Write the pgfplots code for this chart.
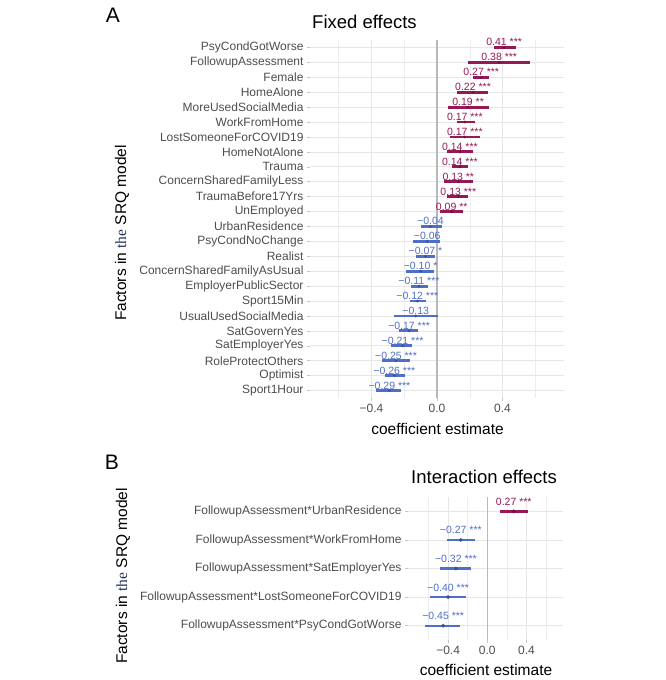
\documentclass[border=0pt]{standalone}
\usepackage{pgfplots}
\pgfplotsset{compat=1.18}
\usepackage{pgfplotstable}
\usepackage{fontspec}
\setmainfont{Liberation Sans}
\newfontfamily\serifthe{Liberation Serif}
\definecolor{posc}{HTML}{961955}
\definecolor{negc}{HTML}{4F6EC8}
\definecolor{tickgray}{HTML}{4D4D4D}
\definecolor{gridgray}{HTML}{E6E6E6}
\definecolor{zerogray}{HTML}{B8B8B8}
\definecolor{thec}{HTML}{22335E}

\pgfplotstableread[col sep=comma]{
row,est,lo,hi,label
1,0.41,0.345,0.48,0.41 ***
2,0.38,0.19,0.57,0.38 ***
3,0.27,0.22,0.32,0.27 ***
4,0.22,0.12,0.31,0.22 ***
5,0.19,0.07,0.32,0.19 **
6,0.17,0.12,0.23,0.17 ***
7,0.17,0.08,0.26,0.17 ***
8,0.14,0.06,0.22,0.14 ***
9,0.14,0.09,0.19,0.14 ***
10,0.13,0.04,0.22,0.13 **
11,0.13,0.06,0.19,0.13 ***
12,0.09,0.02,0.16,0.09 **
}\posA

\pgfplotstableread[col sep=comma]{
row,est,lo,hi,label
13,-0.04,-0.10,0.03,−0.04
14,-0.06,-0.145,0.02,−0.06
15,-0.07,-0.13,-0.01,−0.07 *
16,-0.10,-0.19,-0.02,−0.10 *
17,-0.11,-0.16,-0.055,−0.11 ***
18,-0.12,-0.165,-0.07,−0.12 ***
19,-0.13,-0.26,0.005,−0.13
20,-0.17,-0.23,-0.115,−0.17 ***
21,-0.21,-0.28,-0.15,−0.21 ***
22,-0.25,-0.335,-0.165,−0.25 ***
23,-0.26,-0.32,-0.195,−0.26 ***
24,-0.29,-0.37,-0.22,−0.29 ***
}\negA

\pgfplotstableread[col sep=comma]{
row,est,lo,hi,label
1,0.27,0.13,0.41,0.27 ***
}\posB

\pgfplotstableread[col sep=comma]{
row,est,lo,hi,label
2,-0.27,-0.41,-0.125,−0.27 ***
3,-0.32,-0.48,-0.165,−0.32 ***
4,-0.40,-0.585,-0.22,−0.40 ***
5,-0.45,-0.635,-0.28,−0.45 ***
}\negB

\pgfplotsset{
  coefaxis/.style={
    scale only axis,
    y dir=reverse,
    xtick={-0.4,0,0.4}, xticklabels={−0.4,0.0,0.4},
    minor xtick={-0.6,-0.2,0.2,0.6},
    grid=both,
    major grid style={gridgray, line width=0.7pt},
    minor grid style={gridgray!70, line width=0.45pt},
    axis line style={draw=none},
    tick align=outside, major tick length=3pt, minor tick length=0pt,
    tick pos=left, tick style={color=gray!45, line width=0.6pt},
    ticklabel style={font=\fontsize{12}{14}\selectfont, text=tickgray},
    clip=false,
  },
  coefplot/.style n args={4}{
    only marks, mark=*, color=#1, mark size=#2,
    mark options={draw=#1!75!black, fill=#1!75!black},
    point meta=explicit symbolic,
    nodes near coords,
    every node near coord/.append style={font=\fontsize{10.5}{12}\selectfont, text=#1, anchor=base, yshift=#3},
    error bars/x dir=both, error bars/x explicit, error bars/error mark=none,
    error bars/error bar style={line width=#4, color=#1},
  },
}

\begin{document}
\begin{tikzpicture}[x=1pt,y=1pt]
\useasboundingbox (0,0) rectangle (666,-680);

% ---------------- Panel A ----------------
\begin{axis}[coefaxis,
  at={(310pt,-398pt)}, anchor=south west,
  width=254pt, height=358pt,
  xmin=-0.775, xmax=0.775, ymin=0.5, ymax=24.5,
  ytick={1,...,24},
  yticklabels={PsyCondGotWorse,FollowupAssessment,Female,HomeAlone,MoreUsedSocialMedia,WorkFromHome,LostSomeoneForCOVID19,HomeNotAlone,Trauma,ConcernSharedFamilyLess,TraumaBefore17Yrs,UnEmployed,UrbanResidence,PsyCondNoChange,Realist,ConcernSharedFamilyAsUsual,EmployerPublicSector,Sport15Min,UsualUsedSocialMedia,SatGovernYes,SatEmployerYes,RoleProtectOthers,Optimist,Sport1Hour},
]
\addplot[zerogray, line width=1.6pt, forget plot] coordinates {(0,0.5) (0,24.5)};
\addplot[coefplot={posc}{1.2pt}{1.5pt}{2.8pt}]
  table[x=est, y=row, x error plus expr=\thisrow{hi}-\thisrow{est}, x error minus expr=\thisrow{est}-\thisrow{lo}, meta=label] {\posA};
\addplot[coefplot={negc}{1.2pt}{1.5pt}{2.8pt}]
  table[x=est, y=row, x error plus expr=\thisrow{hi}-\thisrow{est}, x error minus expr=\thisrow{est}-\thisrow{lo}, meta=label] {\negA};
\end{axis}

% ---------------- Panel B ----------------
\begin{axis}[coefaxis,
  at={(408pt,-640pt)}, anchor=south west,
  width=155pt, height=143pt,
  xmin=-0.809, xmax=0.772, ymin=0.5, ymax=5.5,
  ytick={1,...,5},
  yticklabels={FollowupAssessment*UrbanResidence,FollowupAssessment*WorkFromHome,FollowupAssessment*SatEmployerYes,FollowupAssessment*LostSomeoneForCOVID19,FollowupAssessment*PsyCondGotWorse},
]
\addplot[zerogray, line width=1.6pt, forget plot] coordinates {(0,0.5) (0,5.5)};
\addplot[coefplot={posc}{1.7pt}{6pt}{2.4pt}]
  table[x=est, y=row, x error plus expr=\thisrow{hi}-\thisrow{est}, x error minus expr=\thisrow{est}-\thisrow{lo}, meta=label] {\posB};
\addplot[coefplot={negc}{1.7pt}{6pt}{2.4pt}]
  table[x=est, y=row, x error plus expr=\thisrow{hi}-\thisrow{est}, x error minus expr=\thisrow{est}-\thisrow{lo}, meta=label] {\negB};
\end{axis}

% ---------------- Texts ----------------
\node[font=\fontsize{21}{24}\selectfont] at (113,-15) {A};
\node[font=\fontsize{21}{24}\selectfont] at (112,-462) {B};
\node[font=\fontsize{18.5}{22}\selectfont, anchor=west, inner sep=0pt] at (312,-22) {Fixed effects};
\node[font=\fontsize{18.5}{22}\selectfont, anchor=west, inner sep=0pt] at (411,-477) {Interaction effects};
\node[font=\fontsize{15.5}{18}\selectfont] at (437.5,-429) {coefficient estimate};
\node[font=\fontsize{15.5}{18}\selectfont] at (486,-670) {coefficient estimate};
\node[font=\fontsize{15.5}{18}\selectfont, rotate=90] at (122,-233) {Factors in {\serifthe\color{thec}the} SRQ model};
\node[font=\fontsize{15.5}{18}\selectfont, rotate=90] at (123,-576) {Factors in {\serifthe\color{thec}the} SRQ model};
\end{tikzpicture}
\end{document}
